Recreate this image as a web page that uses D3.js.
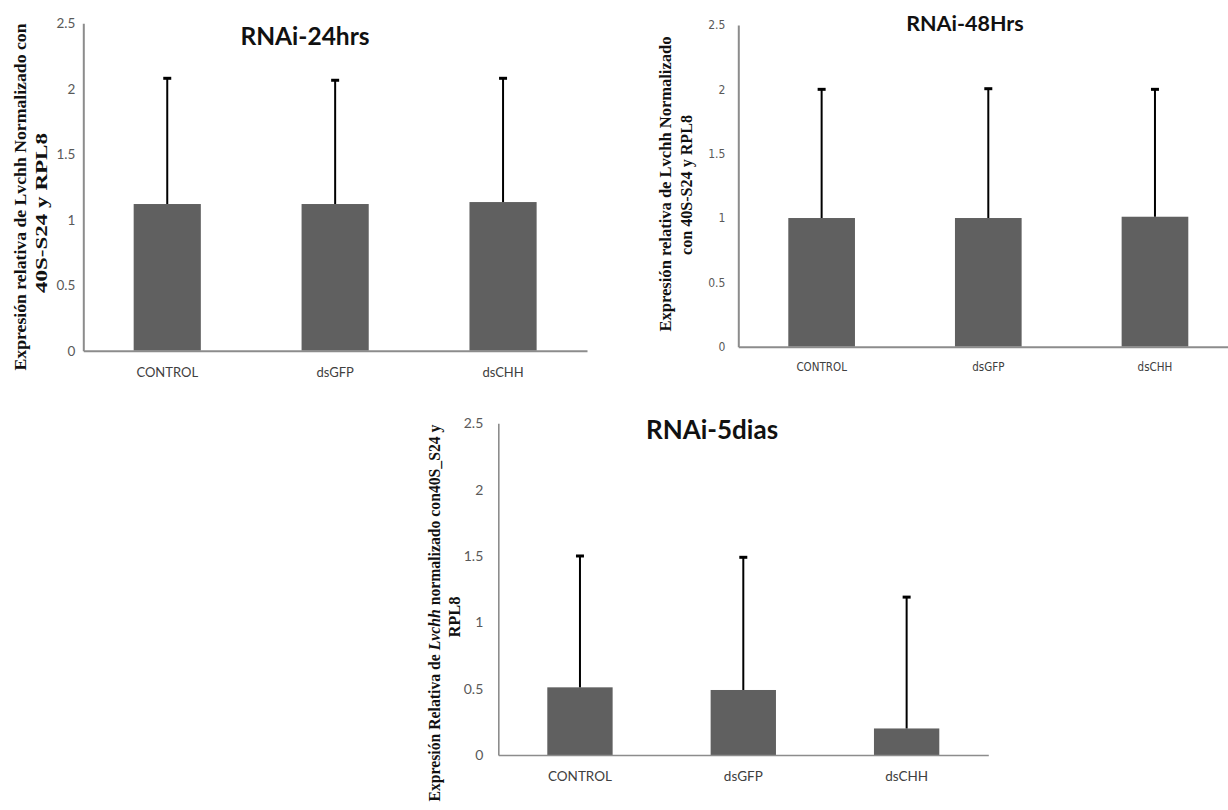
<!DOCTYPE html>
<html>
<head>
<meta charset="utf-8">
<script src="https://cdn.jsdelivr.net/npm/d3@7"></script>
<style>
  html, body { margin: 0; padding: 0; background: #fff; }
  svg { display: block; }
</style>
</head>
<body>
<svg id="chart" width="1228" height="810"></svg>
<script>
// ---------- data ----------
const categories = ["CONTROL", "dsGFP", "dsCHH"];
const yTicks = [0, 0.5, 1, 1.5, 2, 2.5];
const yTickLabels = ["0", "0.5", "1", "1.5", "2", "2.5"];

const titles = ["RNAi-24hrs", "RNAi-48Hrs", "RNAi-5dias"];

const means24h = [1.12, 1.12, 1.135];
const errors24h = [0.96, 0.945, 0.945];

const means48h = [1.0, 1.0, 1.01];
const errors48h = [1.0, 1.005, 0.99];

const means5d = [0.51, 0.49, 0.2];
const errors5d = [0.99, 1.0, 0.99];

const yTitle24h = ["Expresión relativa de Lvchh Normalizado con", "40S-S24 y RPL8"];
const yTitle48h = ["Expresión relativa de Lvchh Normalizado", "con 40S-S24 y RPL8"];
const yTitle5dLine1 = [
  {t: "Expresión Relativa de ", i: false},
  {t: "Lvchh", i: true},
  {t: " normalizado con40S_S24 y", i: false}
];
const yTitle5dLine2 = "RPL8";

// ---------- layout ----------
const svg = d3.select("#chart");
svg.append("rect").attr("width", 1228).attr("height", 810).attr("fill", "#fff");

const panels = [
  {
    means: means24h, errors: errors24h, title: titles[0],
    x0: 83.3, x1: 587, yBase: 350.7, yTop: 23.3,
    axisW: 2, axisColor: "#8c8c8c",
    tickFont: "Lato, sans-serif", tickSize: 13.5, tickPad: 8,
    xFont: "Lato, sans-serif", xSize: 13, xPad: 17,
    titleSize: 24.5, titleX: 305, titleY: 45,
    yTitle: [
      {parts: [{t: yTitle24h[0], i: false}], x: 19.5, yc: 197, len: 347, size: 16.5},
      {parts: [{t: yTitle24h[1], i: false}], x: 40.5, yc: 213, len: 160, size: 16.5}
    ]
  },
  {
    means: means48h, errors: errors48h, title: titles[1],
    x0: 738.3, x1: 1238.3, yBase: 346.7, yTop: 25,
    axisW: 2, axisColor: "#8c8c8c",
    tickFont: "'Liberation Sans Narrow', 'DejaVu Sans Condensed', sans-serif", tickSize: 12, tickPad: 13,
    xFont: "'Liberation Sans Narrow', 'DejaVu Sans Condensed', sans-serif", xSize: 11.5, xPad: 16,
    titleSize: 21.5, titleX: 965, titleY: 31,
    yTitle: [
      {parts: [{t: yTitle48h[0], i: false}], x: 665, yc: 184, len: 295, size: 16.5},
      {parts: [{t: yTitle48h[1], i: false}], x: 686, yc: 185, len: 140, size: 16.5}
    ]
  },
  {
    means: means5d, errors: errors5d, title: titles[2],
    x0: 498.3, x1: 988.3, yBase: 755, yTop: 423.3,
    axisW: 1.6, axisColor: "#8c8c8c",
    tickFont: "Lato, sans-serif", tickSize: 14, tickPad: 15,
    xFont: "Lato, sans-serif", xSize: 13.5, xPad: 16.5,
    titleSize: 26, titleX: 712, titleY: 438.5,
    yTitle: [
      {parts: yTitle5dLine1, x: 433.5, yc: 613, len: 377, size: 16.5},
      {parts: [{t: yTitle5dLine2, i: false}], x: 454, yc: 617, len: 41, size: 16.5}
    ]
  }
];

panels.forEach(p => {
  const g = svg.append("g");

  const x = d3.scaleBand()
    .domain(categories)
    .range([p.x0, p.x1])
    .paddingInner(0.6)
    .paddingOuter(0.3);

  const y = d3.scaleLinear().domain([0, 2.5]).range([p.yBase, p.yTop]);

  // bars
  g.selectAll("rect.bar")
    .data(categories)
    .enter().append("rect")
    .attr("class", "bar")
    .attr("x", d => x(d))
    .attr("width", x.bandwidth())
    .attr("y", (d, i) => y(p.means[i]))
    .attr("height", (d, i) => y(0) - y(p.means[i]))
    .attr("fill", "#606060");

  // error bars (upper only)
  const eb = g.selectAll("g.err")
    .data(categories)
    .enter().append("g")
    .attr("class", "err");
  eb.append("line")
    .attr("x1", d => x(d) + x.bandwidth() / 2)
    .attr("x2", d => x(d) + x.bandwidth() / 2)
    .attr("y1", (d, i) => y(p.means[i]))
    .attr("y2", (d, i) => y(p.means[i] + p.errors[i]))
    .attr("stroke", "#000")
    .attr("stroke-width", 2);
  eb.append("line")
    .attr("x1", d => x(d) + x.bandwidth() / 2 - 4)
    .attr("x2", d => x(d) + x.bandwidth() / 2 + 4)
    .attr("y1", (d, i) => y(p.means[i] + p.errors[i]))
    .attr("y2", (d, i) => y(p.means[i] + p.errors[i]))
    .attr("stroke", "#000")
    .attr("stroke-width", 3);

  // y axis
  const yAxis = d3.axisLeft(y)
    .tickValues(yTicks)
    .tickFormat((d, i) => yTickLabels[i])
    .tickSize(0)
    .tickPadding(p.tickPad);
  const ya = g.append("g")
    .attr("transform", `translate(${p.x0},0)`)
    .call(yAxis);
  ya.select(".domain").attr("stroke", p.axisColor).attr("stroke-width", p.axisW);
  ya.selectAll("text")
    .attr("fill", "#595959")
    .style("font-family", p.tickFont)
    .style("font-size", p.tickSize + "px");

  // x axis
  const xAxis = d3.axisBottom(x).tickSize(0).tickPadding(p.xPad);
  const xa = g.append("g")
    .attr("transform", `translate(0,${p.yBase})`)
    .call(xAxis);
  xa.select(".domain").attr("stroke", p.axisColor).attr("stroke-width", p.axisW);
  xa.selectAll("text")
    .attr("fill", "#404040")
    .style("font-family", p.xFont)
    .style("font-size", p.xSize + "px");

  // title
  g.append("text")
    .attr("x", p.titleX)
    .attr("y", p.titleY)
    .attr("text-anchor", "middle")
    .style("font-family", "Lato, 'Open Sans', sans-serif")
    .style("font-weight", "bold")
    .style("font-size", p.titleSize + "px")
    .attr("fill", "#111")
    .text(p.title);

  // y-axis title lines (rotated)
  p.yTitle.forEach(line => {
    const t = g.append("text")
      .attr("transform", `translate(${line.x},${line.yc}) rotate(-90)`)
      .attr("text-anchor", "middle")
      .attr("dominant-baseline", "central")
      .attr("textLength", line.len)
      .attr("lengthAdjust", "spacingAndGlyphs")
      .style("font-family", "'Liberation Serif', 'Times New Roman', serif")
      .style("font-weight", "bold")
      .style("font-size", line.size + "px")
      .attr("fill", "#111");
    line.parts.forEach(pt => {
      t.append("tspan")
        .style("font-style", pt.i ? "italic" : "normal")
        .text(pt.t);
    });
  });
});
</script>
</body>
</html>
